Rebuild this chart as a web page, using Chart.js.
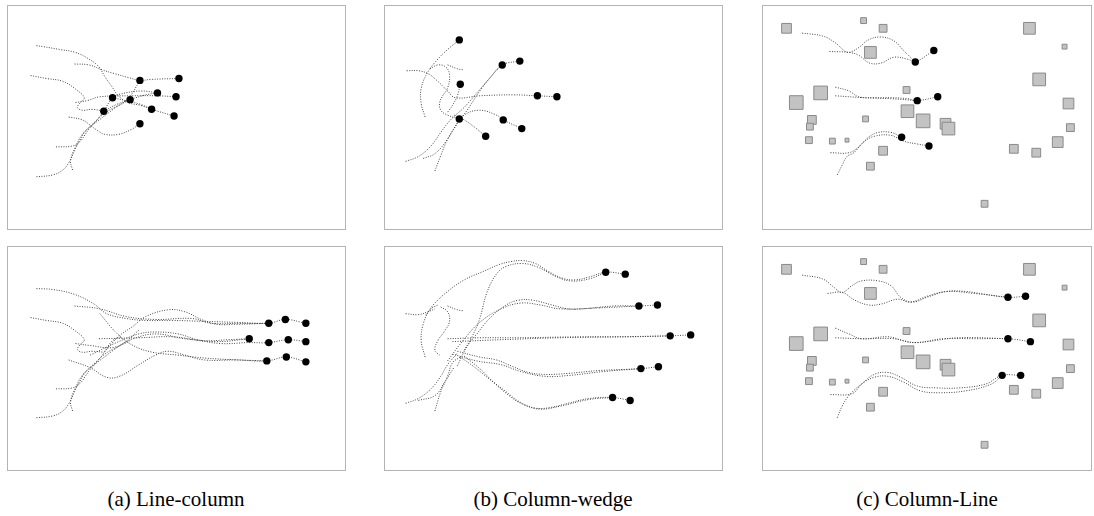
<!DOCTYPE html>
<html>
<head>
<meta charset="utf-8">
<script src="https://cdn.jsdelivr.net/npm/chart.js@4.4.1/dist/chart.umd.min.js"></script>
<style>
  body { margin: 0; background: #fff; width: 1094px; height: 516px; position: relative; overflow: hidden; }
  .panel { position: absolute; border: 1px solid #b4b4b4; box-sizing: border-box; }
  .panel canvas { display: block; }
  .cap { position: absolute; top: 487px; width: 360px; text-align: center;
         font-family: "Liberation Serif", "Times New Roman", serif; font-size: 21px; color: #000; }
</style>
</head>
<body>
<div class="cap" style="left:-4px">(a) Line-column</div>
<div class="cap" style="left:373px">(b) Column-wedge</div>
<div class="cap" style="left:747px">(c) Column-Line</div>
<script>
// all coordinates in the frame of the top row (bottom row uses the same y range)

// --- (a) top ---
const pathsATop = [
  [[33,43],[40,44],[57,47],[73,50],[87,57],[97,65],[103,75],[110,85],[117,95],[127,102],[140,105],[151,109],[174,116]],
  [[72,62],[87,63],[100,68],[113,72],[127,76],[139,79],[150,78],[179,77]],
  [[27,74],[43,77],[60,80],[73,88],[82,97],[78,102],[75,107],[80,110],[90,109],[102,111]],
  [[73,102],[85,100],[98,96],[130,95],[157,95],[176,96]],
  [[66,117],[80,120],[90,127],[97,132],[103,135],[117,135],[130,130],[139,124]],
  [[53,148],[70,147],[78,142],[83,135],[88,128],[95,120],[102,111],[111,97],[120,93],[140,90],[157,92]],
  [[33,179],[50,177],[60,172],[67,163],[72,152],[77,142],[83,132],[92,123],[103,113],[113,107],[129,99]],
  [[70,172],[68,162],[73,148],[80,135],[87,128],[100,118],[113,108],[127,98],[139,79]],
  [[102,111],[115,104],[129,99],[145,94],[157,92]],
  [[111,97],[125,100],[140,104],[151,109]]
];
const dotsATop = [[139,79],[179,77],[157,92],[176,96],[111,97],[129,99],[151,109],[174,116],[102,111],[139,124]];

// --- (a) bottom ---
const pathsABot = [
  [[33,45],[50,46],[72,51],[92,61],[105,71],[125,76],[145,78],[172,78],[205,79],[238,80],[271,81],[288,77],[309,81]],
  [[102,111],[118,94],[132,84],[145,74],[168,67],[185,69],[202,77],[218,82],[238,82],[271,81]],
  [[72,63],[98,66],[125,74],[155,77],[192,76],[212,81],[240,81],[271,81]],
  [[97,97],[138,96],[172,95],[205,99],[230,98],[251,97]],
  [[88,114],[115,101],[138,92],[155,90],[178,92],[198,98],[222,102],[250,101],[271,101],[291,98],[309,100]],
  [[73,102],[88,104],[112,106],[132,97],[155,92],[185,97],[218,100],[251,97]],
  [[66,119],[88,127],[105,137],[118,136],[138,124],[155,114],[168,110],[185,114],[205,119],[238,119],[269,120],[289,116],[309,121]],
  [[98,71],[115,91],[132,104],[152,111],[178,114],[205,117],[240,119],[269,120]],
  [[27,75],[43,78],[60,81],[73,89],[82,98],[78,103],[75,108],[80,111],[90,110],[102,111]],
  [[53,149],[70,148],[78,143],[83,136],[88,129],[95,121],[102,112],[111,99],[120,95]],
  [[33,179],[50,177],[60,172],[67,163],[72,152],[77,142],[83,132],[92,123],[103,113],[113,107],[129,99]],
  [[70,172],[68,162],[73,148],[80,135],[87,128],[100,118],[113,108],[127,98],[138,88]]
];
const dotsABot = [[271,81],[288,77],[309,81],[251,97],[271,101],[291,98],[309,100],[269,120],[289,116],[309,121]];

// --- (b) top ---
const pathsBTop = [
  [[422,117],[418,103],[418,87],[425,70],[435,57],[445,47],[457,37]],
  [[403,69],[415,69],[425,72],[435,80],[445,90],[453,97],[478,95],[512,94],[537,95],[557,96]],
  [[427,67],[435,63],[443,65],[447,73],[445,87],[440,95],[437,102],[438,110],[445,115],[457,119]],
  [[402,163],[415,158],[428,147],[438,133],[448,120],[462,107],[475,92],[488,77],[501,63],[519,59]],
  [[420,160],[432,155],[445,140],[455,123],[465,110],[478,90],[492,72],[501,63]],
  [[432,173],[438,157],[445,140],[453,127],[462,115],[478,110],[495,115],[502,120],[521,129]],
  [[452,115],[462,120],[472,127],[484,137]],
  [[458,83],[455,95],[450,105],[445,112]],
  [[445,63],[455,67],[461,68]]
];
const dotsBTop = [[457,37],[501,63],[519,59],[458,83],[537,95],[557,96],[457,119],[502,120],[521,129],[484,137]];

// --- (b) bottom ---
const pathsBBot = [
  [[402,71],[415,72],[425,69],[432,66]],
  [[422,116],[418,99],[420,82],[427,67],[435,62]],
  [[438,64],[445,69],[447,79],[442,89],[435,99],[432,109],[437,114]],
  [[402,164],[415,159],[428,149],[438,136],[445,124],[455,112]],
  [[432,172],[438,152],[445,136],[450,122],[458,116]],
  [[415,161],[432,156],[442,142],[452,126]],
  [[423,72],[432,60],[445,48],[462,36],[482,27],[498,20],[510,17],[522,16],[535,19],[548,27],[562,34],[575,36],[590,33],[607,28],[627,30]],
  [[462,109],[470,95],[478,76],[485,50],[495,30],[505,22],[522,19],[538,23],[555,32],[570,37],[590,35],[607,28]],
  [[455,125],[465,105],[475,92],[488,76],[505,62],[518,57],[532,57],[552,62],[568,66],[583,66],[616,63],[641,63],[660,62]],
  [[445,120],[460,100],[478,80],[500,66],[520,60],[540,62],[560,66],[600,65],[641,63]],
  [[445,97],[480,96],[516,96],[583,95],[630,95],[673,94],[694,93]],
  [[450,100],[500,98],[560,96],[620,95],[673,94]],
  [[455,110],[478,116],[495,119],[512,126],[528,132],[545,134],[568,133],[600,130],[643,128],[661,126]],
  [[450,113],[475,120],[500,124],[520,131],[545,136],[570,135],[605,131],[643,128]],
  [[458,116],[472,126],[488,139],[505,152],[518,162],[535,169],[552,168],[568,164],[590,159],[614,158],[632,161]],
  [[462,115],[478,128],[492,142],[508,156],[522,165],[540,170],[560,167],[590,160],[614,158]],
  [[445,63],[455,67],[461,68]]
];
const dotsBBot = [[607,28],[627,30],[641,63],[660,62],[673,94],[694,93],[643,128],[661,126],[614,158],[632,161]];

// --- (c) obstacles, shared by both rows ---
const obstX = [783,862,882,869,1032,1068,1042,818,793,906,1072,907,923,946,949,809,807,864,1074,1061,806,830,845,882,1016,1039,869,986];
const obstY = [25,17,25,50,25,44,78,92,102,89,103,111,121,124,129,120,127,119,128,143,141,142,141,152,150,154,168,207];
const obstSize = [10,6,8,12,12,5,13,14,14,7,11,13,14,11,13,9,7,6,8,11,7,6,4,9,9,9,8,7];

// --- (c) top ---
const pathsCTop = [
  [[799,30],[820,33],[833,40],[842,48],[847,50],[857,45],[867,37],[880,34],[893,38],[903,48],[912,57],[915,60],[934,48]],
  [[827,49],[847,50],[857,53],[868,61],[880,61],[893,55],[907,57],[915,60]],
  [[833,86],[847,90],[857,96],[873,97],[890,97],[907,98],[917,100],[938,96]],
  [[833,95],[863,97],[890,98],[917,100]],
  [[828,154],[847,154],[857,148],[867,138],[877,133],[890,133],[901,138]],
  [[835,177],[840,167],[845,158],[852,154],[862,143],[873,137],[890,136],[903,142],[917,145],[929,147]]
];
const dotsCTop = [[915,60],[934,48],[917,100],[938,96],[901,138],[929,147]];

// --- (c) bottom ---
const pathsCBot = [
  [[799,31],[820,35],[832,44],[840,49],[850,42],[860,37],[877,37],[890,42],[900,54],[912,59],[927,54],[947,48],[967,48],[987,51],[1010,54],[1028,53]],
  [[825,50],[840,49],[853,57],[867,62],[880,61],[897,56],[910,59],[927,53],[947,48],[975,50],[1010,54]],
  [[833,86],[847,92],[860,97],[887,95],[903,99],[917,101],[943,97],[977,97],[1010,97],[1033,100]],
  [[833,96],[860,97],[893,97],[913,101],[960,96],[1010,97]],
  [[828,155],[850,154],[860,144],[873,134],[887,132],[900,137],[917,146],[937,148],[960,148],[987,144],[1004,135],[1023,135]],
  [[835,179],[840,167],[847,156],[860,144],[873,137],[887,136],[903,142],[920,151],[940,153],[967,151],[993,144],[1004,135]]
];
const dotsCBot = [[1010,54],[1028,53],[1010,97],[1033,100],[1004,135],[1023,135]];

const Y_MIN = 6, Y_MAX = 229;

function pathSets(paths) {
  return paths.map(p => ({
    data: p.map(([x, y]) => ({ x, y })),
    showLine: true,
    borderColor: '#444',
    borderWidth: 1,
    borderDash: [1, 1.5],
    tension: 0.4,
    pointRadius: 0,
    fill: false,
    order: 2
  }));
}

function dotSet(dots) {
  return {
    data: dots.map(([x, y]) => ({ x, y })),
    showLine: false,
    pointRadius: 3.7,
    pointBackgroundColor: '#000',
    pointBorderColor: '#000',
    pointBorderWidth: 0,
    order: 1
  };
}

function obstacleSet() {
  return {
    data: obstX.map((x, i) => ({ x, y: obstY[i] })),
    showLine: false,
    pointStyle: 'rect',
    pointRadius: (ctx) => {
      const sc = ctx.chart.scales.x;
      const side = Math.abs(sc.getPixelForValue(obstSize[ctx.dataIndex]) - sc.getPixelForValue(0));
      return side / Math.SQRT2;
    },
    pointBackgroundColor: '#c3c3c3',
    pointBorderColor: '#8a8a8a',
    pointBorderWidth: 1,
    order: 3
  };
}

function panel(left, top, w, h, xMin, xMax, datasets) {
  const div = document.createElement('div');
  div.className = 'panel';
  div.style.cssText = `left:${left}px;top:${top}px;width:${w}px;height:${h}px`;
  const cv = document.createElement('canvas');
  cv.width = w - 2; cv.height = h - 2;
  cv.style.width = (w - 2) + 'px'; cv.style.height = (h - 2) + 'px';
  div.appendChild(cv);
  document.body.appendChild(div);
  new Chart(cv, {
    type: 'scatter',
    data: { datasets },
    options: {
      responsive: false,
      animation: false,
      events: [],
      layout: { padding: 0 },
      scales: {
        x: { type: 'linear', min: xMin, max: xMax, display: false },
        y: { type: 'linear', min: Y_MIN, max: Y_MAX, reverse: true, display: false }
      },
      plugins: { legend: { display: false }, tooltip: { enabled: false } }
    }
  });
}

window.onload = function() {
  panel(7, 5, 339, 225, 8, 345, [...pathSets(pathsATop), dotSet(dotsATop)]);
  panel(7, 246, 339, 225, 8, 345, [...pathSets(pathsABot), dotSet(dotsABot)]);
  panel(384, 5, 339, 225, 385, 722, [...pathSets(pathsBTop), dotSet(dotsBTop)]);
  panel(384, 246, 339, 225, 385, 722, [...pathSets(pathsBBot), dotSet(dotsBBot)]);
  panel(762, 5, 330, 225, 763, 1091, [obstacleSet(), ...pathSets(pathsCTop), dotSet(dotsCTop)]);
  panel(762, 246, 330, 225, 763, 1091, [obstacleSet(), ...pathSets(pathsCBot), dotSet(dotsCBot)]);
};
</script>
</body>
</html>
